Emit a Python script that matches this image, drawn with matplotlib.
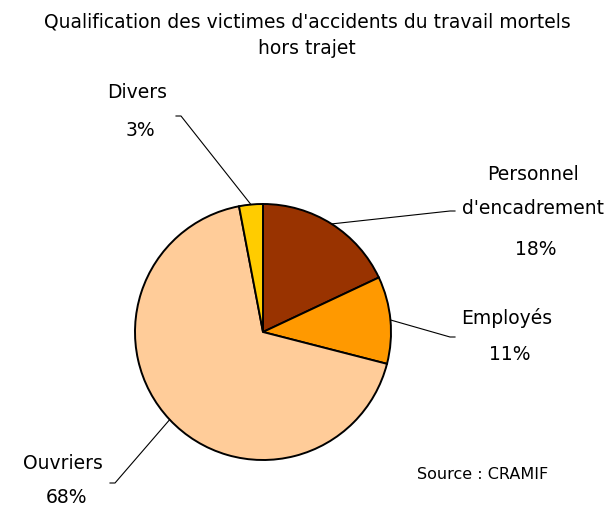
import numpy as np
import matplotlib.pyplot as plt

labels = ["Personnel\nd'encadrement", "Employés", "Ouvriers", "Divers"]
shares = [18, 11, 68, 3]
colors = ["#993300", "#FF9900", "#FFCC99", "#FFCC00"]

W, H = 616, 510
cx, cy, R = 263, H - 333, 128

fig = plt.figure(figsize=(W / 100, H / 100), dpi=100)
ax = fig.add_axes([0, 0, 1, 1])

wedges, _ = ax.pie(shares, colors=colors, startangle=90, counterclock=False,
                   center=(cx, cy), radius=R, frame=True,
                   wedgeprops=dict(edgecolor="black", linewidth=1.4))
ax.set_xlim(0, W)
ax.set_ylim(0, H)
ax.set_aspect("equal")
ax.axis("off")

fs = 13.5
# label anchor (text centre), leader end point, tick direction, line gap
layout = [
    ((533, H - 191), (450, H - 212), +1, 39),
    ((507, H - 318), (450, H - 338), +1, 37),
    ((63, H - 464), (115, H - 484), -1, 34),
    ((137, H - 92), (181, H - 117), -1, 39),
]
for w, lab, pct, (txy, end, side, gap) in zip(wedges, labels, shares, layout):
    mid = np.deg2rad((w.theta1 + w.theta2) / 2)
    sx, sy = cx + R * np.cos(mid), cy + R * np.sin(mid)
    ax.plot([sx, end[0], end[0] + 5 * side], [sy, end[1], end[1]],
            color="black", lw=0.8)
    ax.text(txy[0], txy[1], lab, ha="center", va="center", fontsize=fs,
            linespacing=2.0)
    nlines = lab.count("\n") + 1
    py = txy[1] - (nlines - 1) * gap / 2 - gap
    ax.text(txy[0] + 3, py, f"{pct}%", ha="center", va="center", fontsize=fs)

ax.text(307, H - 22, "Qualification des victimes d'accidents du travail mortels",
        ha="center", va="center", fontsize=13.5)
ax.text(307, H - 48, "hors trajet", ha="center", va="center", fontsize=13.5)
ax.text(483, H - 475, "Source : CRAMIF", ha="center", va="center", fontsize=11.5)

fig.savefig("out.png", dpi=100, facecolor="white")
